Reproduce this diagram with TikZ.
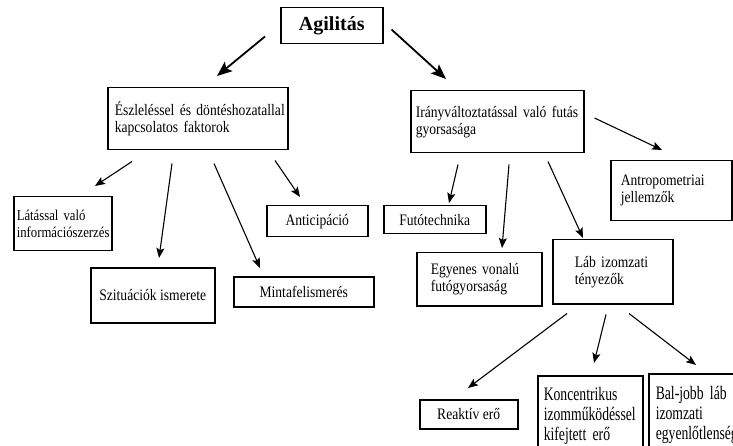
\documentclass[tikz,border=0pt]{standalone}
\usepackage{fontspec}
\setmainfont{Liberation Serif}
% narrow serif used inside the boxes
\newfontfamily\cond{Liberation Serif}[FakeStretch=0.85]
\newfontfamily\condtall{Liberation Serif}[FakeStretch=0.72]
\usetikzlibrary{arrows.meta,calc}

\begin{document}
\begin{tikzpicture}[x=1pt,y=-1pt,
  box/.style={draw=black, line width=1.5pt, inner ysep=0pt, anchor=north west,
    font=\fontsize{16}{17}\selectfont\cond},
  lbox/.style={box, align=left},
  cbox/.style={box, align=center, inner xsep=0pt},
  tallfont/.style={font=\fontsize{19}{20}\selectfont\condtall},
  arr/.style={-{Stealth[length=10pt,width=8pt,inset=2pt]}, line width=1.1pt},
  bigarr/.style={-{Stealth[length=15pt,width=12pt,inset=3pt]}, line width=1.8pt}]

\useasboundingbox (0,0) rectangle (733,446);
\clip (0,0) rectangle (733,446);
\fill[white] (0,0) rectangle (733,446);

% top node
\node[box, align=center, inner xsep=0pt, minimum width=102pt, minimum height=36pt,
  font=\fontsize{20}{22}\selectfont\bfseries] (agil) at (280,7) {Agilitás};

% second level
\node[lbox, minimum height=62pt, inner xsep=7pt, text width=166pt] (esz) at (107,87)
  {\mbox{Észleléssel és döntéshozatallal}\\\mbox{kapcsolatos faktorok}};
\node[lbox, minimum height=62pt, inner xsep=5pt, text width=163pt] (irany) at (410,90)
  {\mbox{Irányváltoztatással való futás}\\\mbox{gyorsasága}};

% perception and decision factors
\node[lbox, minimum height=54pt, inner xsep=3pt, text width=92pt,
  font=\fontsize{15}{17}\selectfont\cond] (latas) at (13,196)
  {\mbox{Látással való}\\\mbox{információszerzés}};
\node[cbox, minimum width=124pt, minimum height=55pt] (szit) at (90,267) {Szituációk ismerete};
\node[cbox, minimum width=140pt, minimum height=30pt] (minta) at (233,276) {Mintafelismerés};
\node[cbox, minimum width=101pt, minimum height=31pt] (antic) at (266,205) {Anticipáció};

% change-of-direction speed factors
\node[cbox, minimum width=102pt, minimum height=28pt] (futo) at (383,205) {Futótechnika};
\node[lbox, minimum height=53pt, inner xsep=14pt, text width=97pt] (egy) at (416,252)
  {\mbox{Egyenes vonalú}\\\mbox{futógyorsaság}};
\node[lbox, minimum height=64pt, inner xsep=22pt, text width=76pt] (lab) at (552,239)
  {\mbox{Láb izomzati}\\\mbox{tényezők}};
\node[lbox, minimum height=60pt, inner xsep=10pt, text width=101pt] (antrop) at (610,160)
  {\mbox{Antropometriai}\\\mbox{jellemzők}};

% leg muscle factors
\node[cbox, minimum width=98pt, minimum height=29pt] (reak) at (419,399) {Reaktív erő};
\node[lbox, tallfont, minimum height=80pt, inner xsep=6pt, text width=93pt] (konc) at (537,375)
  {\mbox{Koncentrikus}\\\mbox{izomműködéssel}\\\mbox{kifejtett erő}};
\node[lbox, tallfont, minimum height=82pt, inner xsep=7pt, text width=106pt] (bal) at (648,373)
  {\mbox{Bal-jobb láb}\\\mbox{izomzati}\\\mbox{egyenlőtlenség}};

% connectors
\draw[bigarr] ([shift={(-15,-8)}]agil.south west) -- ([shift={(110,-11)}]esz.north west);
\draw[bigarr] ([shift={(8,-15)}]agil.south east) -- ([shift={(36,-11)}]irany.north west);

\draw[arr] ([shift={(25,11)}]esz.south west) -- ([shift={(82,-10)}]latas.north west);
\draw[arr] ([shift={(65,13)}]esz.south west) -- ([shift={(69,-9)}]szit.north west);
\draw[arr] ([shift={(107,13)}]esz.south west) -- ([shift={(27,-8)}]minta.north west);
\draw[arr] ([shift={(168,10)}]esz.south west) -- ([shift={(34,-8)}]antic.north west);

\draw[arr] ([shift={(48,11)}]irany.south west) -- ([shift={(66,-2)}]futo.north west);
\draw[arr] ([shift={(99,11)}]irany.south west) -- ([shift={(86,-4)}]egy.north west);
\draw[arr] ([shift={(138,8)}]irany.south west) -- ([shift={(31,-1)}]lab.north west);
\draw[arr] ([shift={(10,28)}]irany.north east) -- ([shift={(52,-10)}]antrop.north west);

\draw[arr] ([shift={(15,9)}]lab.south west) -- ([shift={(49,-11)}]reak.north west);
\draw[arr] ([shift={(54,10)}]lab.south west) -- ([shift={(57,-12)}]konc.north west);
\draw[arr] ([shift={(77,9)}]lab.south west) -- ([shift={(48,-8)}]bal.north west);
\end{tikzpicture}
\end{document}
